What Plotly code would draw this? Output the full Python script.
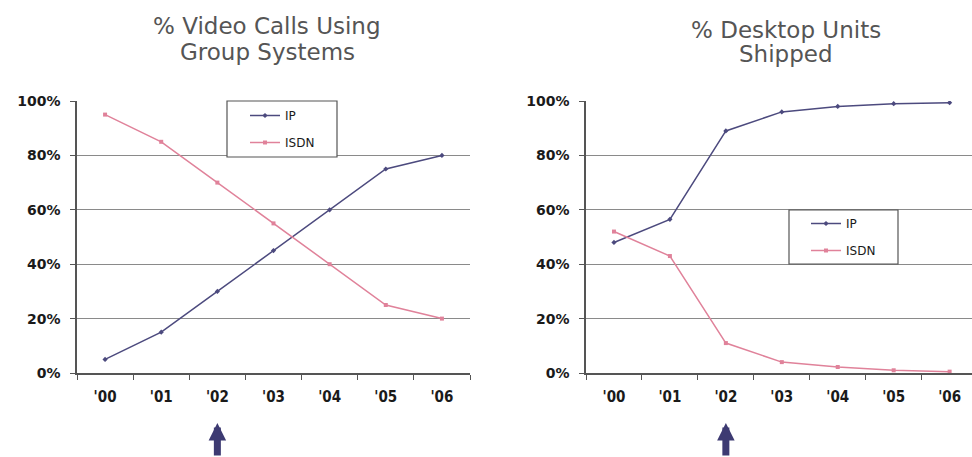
import plotly.graph_objects as go

years = ["'00", "'01", "'02", "'03", "'04", "'05", "'06"]
calls_ip = [5, 15, 30, 45, 60, 75, 80]
calls_isdn = [95, 85, 70, 55, 40, 25, 20]
units_ip = [48, 56.5, 89, 96, 98, 99, 99.4]
units_isdn = [52, 43, 11, 4, 2.2, 1, 0.5]
y_ticks = [0, 20, 40, 60, 80, 100]
y_tick_labels = ["0%", "20%", "40%", "60%", "80%", "100%"]

IP_COLOR = "#4c4a7e"
ISDN_COLOR = "#e0829a"
W, H = 972, 457

fig = go.Figure()

def add(x, y, name, color, sym, xa, ya, leg, group):
    fig.add_trace(go.Scatter(
        x=x, y=y, name=name, mode="lines+markers",
        line=dict(color=color, width=1.5),
        marker=dict(symbol=sym, size=4, color=color),
        xaxis=xa, yaxis=ya, legend=leg, legendgroup=group,
    ))

add(years, calls_ip, "IP", IP_COLOR, "diamond", "x", "y", "legend", "a1")
add(years, calls_isdn, "ISDN", ISDN_COLOR, "square", "x", "y", "legend", "a2")
add(years, units_ip, "IP", IP_COLOR, "diamond", "x2", "y2", "legend2", "b1")
add(years, units_isdn, "ISDN", ISDN_COLOR, "square", "x2", "y2", "legend2", "b2")

def py(p):
    return (H - p) / H

def px(p):
    return p / W

ydom = [py(373), py(101)]
xtickfont = dict(family="DejaVu Sans Condensed, Liberation Sans Narrow, sans-serif",
                 size=15, color="#1a1a1a", weight="bold")
ytickfont = dict(family="DejaVu Sans, sans-serif", size=14, color="#1a1a1a", weight="bold")

xcommon = dict(type="category", showgrid=False, showline=True, linecolor="#555",
               linewidth=1.5, ticks="outside", tickson="boundaries", ticklen=5,
               tickcolor="#555", tickfont=xtickfont, zeroline=False, fixedrange=True,
               ticklabelstandoff=9)
ycommon = dict(range=[0, 100], tickvals=y_ticks, ticktext=y_tick_labels,
               showgrid=True, gridcolor="#8a8a8a", gridwidth=1.3, showline=True,
               linecolor="#555", linewidth=1.5, ticks="outside", ticklen=5,
               tickcolor="#555", tickfont=ytickfont, zeroline=False, fixedrange=True,
               ticklabelstandoff=7)

legcommon = dict(bgcolor="rgba(0,0,0,0)", borderwidth=0,
                 font=dict(family="DejaVu Sans, sans-serif", size=12, color="#1a1a1a"),
                 tracegroupgap=8, itemwidth=30, yanchor="middle", xanchor="left")

fig.update_layout(
    width=W, height=H, margin=dict(l=0, r=0, t=0, b=0, autoexpand=False),
    paper_bgcolor="white", plot_bgcolor="white", showlegend=True,
    xaxis=dict(domain=[px(77), px(470)], anchor="y", range=[-0.5, 6.5], **xcommon),
    yaxis=dict(domain=ydom, anchor="x", **ycommon),
    xaxis2=dict(domain=[px(586), 1.0], anchor="y2", range=[-0.5, 6.4], **xcommon),
    yaxis2=dict(domain=ydom, anchor="x2", **ycommon),
    legend=dict(x=px(245), y=py(129), **legcommon),
    legend2=dict(x=px(806), y=py(237), **legcommon),
)

# legend frames
for (x0, x1, y0, y1) in [(227, 337, 101, 157), (789, 898, 210, 264)]:
    fig.add_shape(type="rect", xref="paper", yref="paper",
                  x0=px(x0), x1=px(x1), y0=py(y1), y1=py(y0),
                  line=dict(color="#555", width=1.2), fillcolor="white", layer="above")

title_font = dict(family="DejaVu Sans, sans-serif", size=23, color="#555")
for text, x, y in [("% Video Calls Using", 267, 26), ("Group Systems", 267, 52),
                   ("% Desktop Units", 786, 30), ("Shipped", 786, 54)]:
    fig.add_annotation(text=text, x=px(x), y=py(y), xref="paper", yref="paper",
                       showarrow=False, font=title_font, xanchor="center", yanchor="middle")

for xa in ["x", "x2"]:
    fig.add_annotation(x="'02", y=py(423), xref=xa, yref="paper",
                       ax=0, ay=40, axref="pixel", ayref="pixel",
                       showarrow=True, arrowhead=2, arrowsize=0.5, arrowwidth=7,
                       arrowcolor="#3d3a72", text="")

fig.write_html("out.html", config={"displayModeBar": False},
               post_script="document.body.style.margin='0';document.body.style.overflow='hidden';")
